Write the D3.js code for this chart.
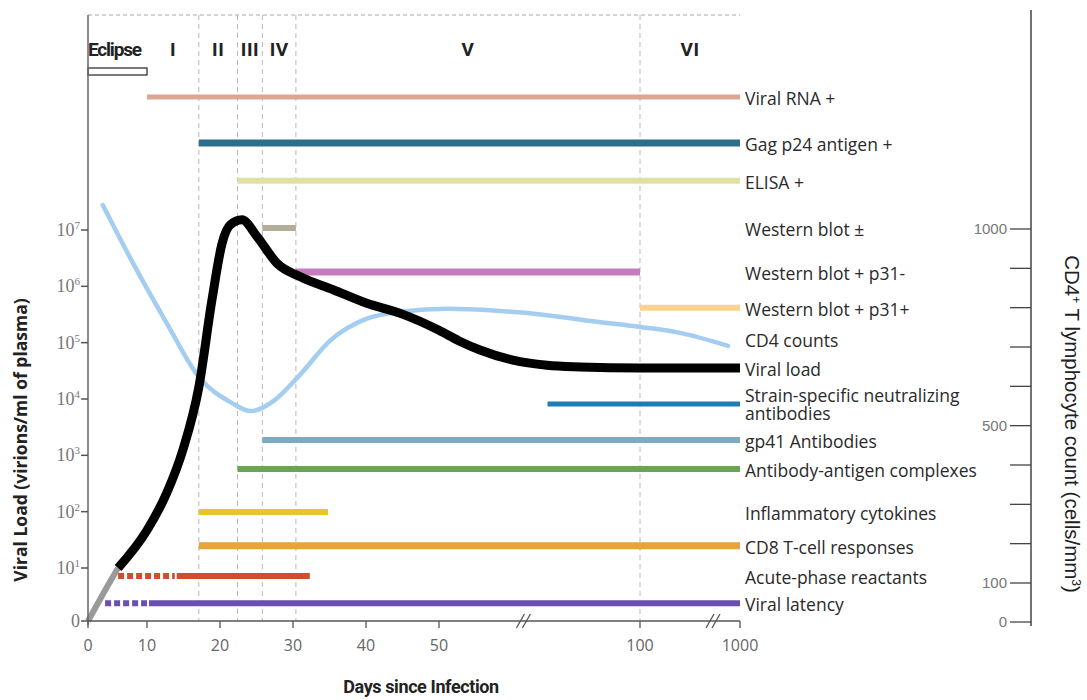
<!DOCTYPE html>
<html>
<head>
<meta charset="utf-8">
<script src="https://cdn.jsdelivr.net/npm/d3@7"></script>
<style>
  body { margin: 0; background: #fff; }
  svg { display: block; }
</style>
</head>
<body>
<div id="chart"></div>
<script>
// phases of infection (days)
const phaseNames = ["Eclipse", "I", "II", "III", "IV", "V", "VI"];
const phaseBounds = [0, 10, 17.1, 22.4, 25.8, 30.4, 100, 1000];

// axes
const dayTicks = [0, 10, 20, 30, 40, 50, 100, 1000];
const axisBreaks = [71, 757];
const loadTicks = [0, 1, 2, 3, 4, 5, 6, 7]; // log10 of virions/ml, 0 shown as "0"
const cd4Ticks = [0, 100, 200, 300, 400, 500, 600, 700, 800, 900, 1000];
const cd4TickLabels = [0, 100, 500, 1000];

// viral load curve (day, log10 virions/ml)
const earlyDays = [0, 2.5, 5.1];
const earlyLoad = [0, 0.5, 1.0];
const loadDays = [5.1, 10, 12.7, 14.9, 17.1, 18.9, 20.3, 21.4, 23.0, 25.1, 27.8, 31.0, 35.5, 40.1, 44.7, 50, 55, 60.2, 68.4, 76.9, 85, 100, 1000];
const loadValues = [1.0, 1.67, 2.33, 3.09, 4.21, 5.76, 6.77, 7.09, 7.18, 6.88, 6.41, 6.17, 5.94, 5.70, 5.52, 5.22, 5.03, 4.87, 4.69, 4.60, 4.57, 4.55, 4.55];

// CD4 count curve (day, cells/mm3)
const cd4Days = [2.5, 7.6, 12.7, 17.1, 21.6, 24.2, 27.5, 30.7, 35.2, 40.1, 45, 52, 64.4, 76.9, 89.3, 100, 460, 892];
const cd4Values = [1061, 914, 761, 624, 558, 537, 565, 624, 718, 772, 790, 797, 792, 781, 764, 751, 736, 703];

// markers: label, row, start day, dashed-until day, end day
const markerNames = ["Viral RNA +", "Gag p24 antigen +", "ELISA +", "Western blot \u00b1", "Western blot + p31-",
  "Western blot + p31+", "CD4 counts", "Viral load", "Strain-specific neutralizing\nantibodies", "gp41 Antibodies",
  "Antibody-antigen complexes", "Inflammatory cytokines", "CD8 T-cell responses", "Acute-phase reactants", "Viral latency"];
const markerRows = [0, 1.27, 2.31, 3.61, 4.82, 5.81, 6.67, 7.47, 8.46, 9.45, 10.25, 11.44, 12.37, 13.2, 13.95];
const markerStart = [10, 17.1, 22.4, 25.8, 30.4, 100, null, null, 77, 25.8, 22.4, 17.1, 17.1, 5.1, 2.9];
const markerDashedTo = [null, null, null, null, null, null, null, null, null, null, null, null, null, 13.8, 10];
const markerEnd = [1000, 1000, 1000, 30.4, 100, 1000, null, null, 1000, 1000, 1000, 34.8, 1000, 32.3, 1000];

const markerColors = ["#dca594", "#2b6f8c", "#e0e0a0", "#b4ae98", "#c47cbd", "#f8d28e", null, null,
  "#1f7cb5", "#7eaabf", "#6aa64f", "#e8c52c", "#e9a23c", "#d24d30", "#6a4fb0"];
const markerWidths = [5, 7, 6, 6, 7, 6, 0, 0, 5, 6, 6, 6, 7, 6, 6];

const width = 1087, height = 700;

const svg = d3.select("#chart").append("svg")
  .attr("width", width)
  .attr("height", height);

const x = d3.scaleLinear().domain([0, 10, 50, 100, 1000]).range([88, 147, 439, 640, 740]);
const y = d3.scaleLinear().domain([0, 1, 7]).range([621, 568, 230]);
const yCd4 = d3.scaleLinear().domain([0, 100, 1000]).range([622, 583, 229]);
const row = d3.scaleLinear().domain([0, 14]).range([97, 605]);

const plotTop = 15;
const plotBottom = y(0);
const xMin = x(0), xMax = x(1000);

// frame: dashed top, dashed phase lines
svg.append("line")
  .attr("x1", xMin).attr("x2", xMax)
  .attr("y1", plotTop).attr("y2", plotTop)
  .attr("stroke", "#aaa").attr("stroke-width", 1.2)
  .attr("stroke-dasharray", "4,3");

svg.selectAll(".phase-line")
  .data(phaseBounds.slice(2, 7))
  .enter().append("line")
  .attr("x1", d => x(d)).attr("x2", d => x(d))
  .attr("y1", plotTop).attr("y2", plotBottom)
  .attr("stroke", "#b8b8b8").attr("stroke-width", 1)
  .attr("stroke-dasharray", "5,4");

// phase labels
svg.selectAll(".phase-label")
  .data(phaseNames)
  .enter().append("text")
  .attr("x", (d, i) => i === 0 ? x(phaseBounds[0]) : (x(phaseBounds[i]) + x(phaseBounds[i + 1])) / 2)
  .attr("y", 56)
  .attr("text-anchor", (d, i) => i === 0 ? "start" : "middle")
  .attr("font-family", "Roboto, sans-serif")
  .attr("font-weight", "bold")
  .attr("font-size", 19)
  .attr("fill", "#222")
  .attr("letter-spacing", (d, i) => i === 0 ? -1.2 : 0.5)
  .text(d => d);

svg.append("rect")
  .attr("x", x(0)).attr("y", 68)
  .attr("width", x(10) - x(0)).attr("height", 7)
  .attr("fill", "#fff").attr("stroke", "#333").attr("stroke-width", 1.3);

// marker bars
markerNames.forEach((name, i) => {
  const yy = row(markerRows[i]);
  if (markerStart[i] !== null) {
    let solidFrom = markerStart[i];
    if (markerDashedTo[i] !== null) {
      svg.append("line")
        .attr("x1", x(markerStart[i])).attr("x2", x(markerDashedTo[i]))
        .attr("y1", yy).attr("y2", yy)
        .attr("stroke", markerColors[i]).attr("stroke-width", markerWidths[i])
        .attr("stroke-dasharray", "6,3");
      solidFrom = markerDashedTo[i];
    }
    svg.append("line")
      .attr("x1", x(solidFrom) + (markerDashedTo[i] !== null ? 2 : 0)).attr("x2", x(markerEnd[i]))
      .attr("y1", yy).attr("y2", yy)
      .attr("stroke", markerColors[i]).attr("stroke-width", markerWidths[i]);
  }
  const lines = name.split("\n");
  const t = svg.append("text")
    .attr("x", 745)
    .attr("y", yy - (lines.length - 1) * 9.5 + 1)
    .attr("dominant-baseline", "central")
    .attr("font-family", "'Open Sans', sans-serif")
    .attr("font-size", 17.5)
    .attr("fill", "#2a2a2a");
  lines.forEach((l, k) => {
    t.append("tspan").attr("x", 745).attr("dy", k === 0 ? 0 : 18).text(l);
  });
});

// curves
const line = d3.line().curve(d3.curveMonotoneX);

svg.append("path")
  .attr("d", line(cd4Days.map((d, i) => [x(d), yCd4(cd4Values[i])])))
  .attr("fill", "none").attr("stroke", "#a3cdf1").attr("stroke-width", 4.5)
  .attr("stroke-linecap", "round");

svg.append("path")
  .attr("d", line(earlyDays.map((d, i) => [x(d), y(earlyLoad[i])])))
  .attr("fill", "none").attr("stroke", "#9a9a9a").attr("stroke-width", 6);

svg.append("path")
  .attr("d", line(loadDays.map((d, i) => [x(d), y(loadValues[i])])))
  .attr("fill", "none").attr("stroke", "#000").attr("stroke-width", 9)
  .attr("stroke-linejoin", "round");

// left axis
svg.append("line")
  .attr("x1", xMin).attr("x2", xMin)
  .attr("y1", plotTop).attr("y2", plotBottom + 4)
  .attr("stroke", "#666").attr("stroke-width", 1.5);

svg.selectAll(".ytick")
  .data(loadTicks)
  .enter().append("line")
  .attr("x1", xMin - 7).attr("x2", xMin)
  .attr("y1", d => y(d)).attr("y2", d => y(d))
  .attr("stroke", "#555").attr("stroke-width", 1.5);

const yLab = svg.selectAll(".ylab")
  .data(loadTicks)
  .enter().append("text")
  .attr("x", xMin - 8)
  .attr("y", d => y(d) + 6)
  .attr("text-anchor", "end")
  .attr("font-family", "'Liberation Serif', serif")
  .attr("font-size", 18)
  .attr("fill", "#777");
yLab.each(function (d) {
  const t = d3.select(this);
  if (d === 0) { t.text("0"); return; }
  t.append("tspan").text("10");
  t.append("tspan").attr("dy", -7).attr("font-size", 11).text(d);
});

svg.append("text")
  .attr("transform", "translate(27," + 440 + ") rotate(-90)")
  .attr("text-anchor", "middle")
  .attr("font-family", "'Open Sans', sans-serif")
  .attr("font-weight", "bold")
  .attr("font-size", 17.5)
  .attr("fill", "#222")
  .text("Viral Load (virions/ml of plasma)");

// bottom axis
svg.append("line")
  .attr("x1", xMin).attr("x2", xMax)
  .attr("y1", plotBottom).attr("y2", plotBottom)
  .attr("stroke", "#555").attr("stroke-width", 1.5);

svg.selectAll(".xtick")
  .data(dayTicks)
  .enter().append("line")
  .attr("x1", d => x(d)).attr("x2", d => x(d))
  .attr("y1", plotBottom).attr("y2", plotBottom + 7)
  .attr("stroke", "#555").attr("stroke-width", 1.3);

svg.selectAll(".xlab")
  .data(dayTicks)
  .enter().append("text")
  .attr("x", d => x(d))
  .attr("y", plotBottom + 30)
  .attr("text-anchor", "middle")
  .attr("font-family", "'Open Sans', sans-serif")
  .attr("font-size", 16)
  .attr("fill", "#666")
  .text(d => d);

axisBreaks.forEach(b => {
  [-3, 3].forEach(off => {
    svg.append("line")
      .attr("x1", x(b) + off - 4).attr("x2", x(b) + off + 4)
      .attr("y1", plotBottom + 7).attr("y2", plotBottom - 7)
      .attr("stroke", "#555").attr("stroke-width", 1.3);
  });
});

svg.append("text")
  .attr("x", 421).attr("y", 693)
  .attr("text-anchor", "middle")
  .attr("font-family", "Roboto, sans-serif")
  .attr("font-weight", "bold")
  .attr("font-size", 18)
  .attr("fill", "#222")
  .attr("letter-spacing", -0.4)
  .text("Days since Infection");

// right CD4 axis
const xr = 1031;
svg.append("line")
  .attr("x1", xr).attr("x2", xr)
  .attr("y1", 10).attr("y2", yCd4(0) + 4)
  .attr("stroke", "#444").attr("stroke-width", 1.5);

svg.selectAll(".rtick")
  .data(cd4Ticks)
  .enter().append("line")
  .attr("x1", xr - 21).attr("x2", xr)
  .attr("y1", d => yCd4(d)).attr("y2", d => yCd4(d))
  .attr("stroke", "#444").attr("stroke-width", 1.3);

svg.selectAll(".rlab")
  .data(cd4TickLabels)
  .enter().append("text")
  .attr("x", xr - 24)
  .attr("y", d => yCd4(d) + 5)
  .attr("text-anchor", "end")
  .attr("font-family", "'Liberation Sans', Arial, sans-serif")
  .attr("font-size", 15)
  .attr("fill", "#777")
  .text(d => d);

const rt = svg.append("text")
  .attr("transform", "translate(1065," + 424 + ") rotate(90)")
  .attr("text-anchor", "middle")
  .attr("font-family", "'Liberation Sans', Arial, sans-serif")
  .attr("font-size", 20.5)
  .attr("fill", "#222");
rt.append("tspan").text("CD4");
rt.append("tspan").attr("dy", -7).attr("font-size", 12).text("+");
rt.append("tspan").attr("dy", 7).text(" T lymphocyte count (cells/mm");
rt.append("tspan").attr("dy", -7).attr("font-size", 12).text("3");
rt.append("tspan").attr("dy", 7).text(")");
</script>
</body>
</html>
